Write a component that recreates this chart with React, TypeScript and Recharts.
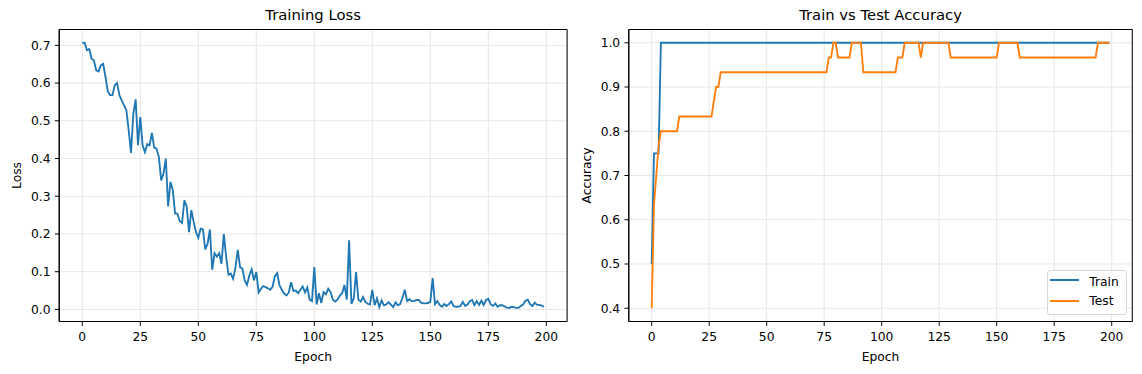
import { LineChart, Line, XAxis, YAxis, CartesianGrid, Label, ReferenceArea } from 'recharts';

// training loss per epoch (0..199)
const LOSS = [
  0.707, 0.707, 0.687, 0.69, 0.665, 0.66, 0.634, 0.631, 0.647, 0.651,
  0.616, 0.578, 0.568, 0.568, 0.594, 0.6, 0.568, 0.554, 0.541, 0.528,
  0.475, 0.415, 0.519, 0.557, 0.435, 0.51, 0.435, 0.417, 0.438, 0.435,
  0.468, 0.429, 0.426, 0.404, 0.342, 0.36, 0.4, 0.273, 0.338, 0.317,
  0.254, 0.254, 0.234, 0.229, 0.289, 0.273, 0.205, 0.263, 0.232, 0.205,
  0.19, 0.214, 0.212, 0.159, 0.174, 0.212, 0.105, 0.149, 0.14, 0.149,
  0.121, 0.2, 0.14, 0.092, 0.095, 0.081, 0.11, 0.158, 0.112, 0.108,
  0.077, 0.065, 0.09, 0.106, 0.077, 0.099, 0.045, 0.055, 0.062, 0.059,
  0.056, 0.052, 0.06, 0.088, 0.096, 0.064, 0.052, 0.042, 0.037, 0.045,
  0.072, 0.049, 0.05, 0.043, 0.052, 0.061, 0.045, 0.058, 0.026, 0.022,
  0.112, 0.013, 0.043, 0.017, 0.046, 0.04, 0.055, 0.046, 0.026, 0.021,
  0.026, 0.037, 0.043, 0.065, 0.026, 0.183, 0.015, 0.029, 0.099, 0.026,
  0.021, 0.033, 0.02, 0.015, 0.013, 0.052, 0.011, 0.029, 0.006, 0.024,
  0.011, 0.013, 0.019, 0.013, 0.006, 0.019, 0.011, 0.014, 0.031, 0.052,
  0.022, 0.027, 0.022, 0.022, 0.025, 0.025, 0.018, 0.016, 0.016, 0.017,
  0.02, 0.083, 0.014, 0.022, 0.012, 0.007, 0.014, 0.009, 0.014, 0.021,
  0.009, 0.007, 0.007, 0.009, 0.02, 0.009, 0.013, 0.022, 0.025, 0.011,
  0.022, 0.012, 0.023, 0.012, 0.025, 0.028, 0.014, 0.009, 0.016, 0.007,
  0.011, 0.011, 0.008, 0.005, 0.004, 0.007, 0.006, 0.004, 0.004, 0.009,
  0.013, 0.023, 0.026, 0.014, 0.009, 0.018, 0.012, 0.012, 0.01, 0.007,
];

const TRAIN_ACC = [
  0.5, 0.75, 0.75, 0.75, 1, 1, 1, 1, 1, 1, 1, 1, 1, 1, 1, 1, 1, 1, 1, 1,
  1, 1, 1, 1, 1, 1, 1, 1, 1, 1, 1, 1, 1, 1, 1, 1, 1, 1, 1, 1,
  1, 1, 1, 1, 1, 1, 1, 1, 1, 1, 1, 1, 1, 1, 1, 1, 1, 1, 1, 1,
  1, 1, 1, 1, 1, 1, 1, 1, 1, 1, 1, 1, 1, 1, 1, 1, 1, 1, 1, 1,
  1, 1, 1, 1, 1, 1, 1, 1, 1, 1, 1, 1, 1, 1, 1, 1, 1, 1, 1, 1,
  1, 1, 1, 1, 1, 1, 1, 1, 1, 1, 1, 1, 1, 1, 1, 1, 1, 1, 1, 1,
  1, 1, 1, 1, 1, 1, 1, 1, 1, 1, 1, 1, 1, 1, 1, 1, 1, 1, 1, 1,
  1, 1, 1, 1, 1, 1, 1, 1, 1, 1, 1, 1, 1, 1, 1, 1, 1, 1, 1, 1,
  1, 1, 1, 1, 1, 1, 1, 1, 1, 1, 1, 1, 1, 1, 1, 1, 1, 1, 1, 1,
  1, 1, 1, 1, 1, 1, 1, 1, 1, 1, 1, 1, 1, 1, 1, 1, 1, 1, 1, 1,
];

const TEST_ACC = [
  0.4, 0.6333, 0.7, 0.7667, 0.8, 0.8, 0.8, 0.8, 0.8, 0.8,
  0.8, 0.8, 0.8333, 0.8333, 0.8333, 0.8333, 0.8333, 0.8333, 0.8333, 0.8333,
  0.8333, 0.8333, 0.8333, 0.8333, 0.8333, 0.8333, 0.8333, 0.8667, 0.9, 0.9,
  0.9333, 0.9333, 0.9333, 0.9333, 0.9333, 0.9333, 0.9333, 0.9333, 0.9333, 0.9333,
  0.9333, 0.9333, 0.9333, 0.9333, 0.9333, 0.9333, 0.9333, 0.9333, 0.9333, 0.9333,
  0.9333, 0.9333, 0.9333, 0.9333, 0.9333, 0.9333, 0.9333, 0.9333, 0.9333, 0.9333,
  0.9333, 0.9333, 0.9333, 0.9333, 0.9333, 0.9333, 0.9333, 0.9333, 0.9333, 0.9333,
  0.9333, 0.9333, 0.9333, 0.9333, 0.9333, 0.9333, 0.9333, 0.9667, 0.9667, 1,
  1, 0.9667, 0.9667, 0.9667, 0.9667, 0.9667, 0.9667, 1, 1, 1,
  1, 1, 0.9333, 0.9333, 0.9333, 0.9333, 0.9333, 0.9333, 0.9333, 0.9333,
  0.9333, 0.9333, 0.9333, 0.9333, 0.9333, 0.9333, 0.9333, 0.9667, 0.9667, 0.9667,
  1, 1, 1, 1, 1, 1, 1, 0.9667, 1, 1,
  1, 1, 1, 1, 1, 1, 1, 1, 1, 1,
  0.9667, 0.9667, 0.9667, 0.9667, 0.9667, 0.9667, 0.9667, 0.9667, 0.9667, 0.9667,
  0.9667, 0.9667, 0.9667, 0.9667, 0.9667, 0.9667, 0.9667, 0.9667, 0.9667, 0.9667,
  0.9667, 1, 1, 1, 1, 1, 1, 1, 1, 1,
  0.9667, 0.9667, 0.9667, 0.9667, 0.9667, 0.9667, 0.9667, 0.9667, 0.9667, 0.9667,
  0.9667, 0.9667, 0.9667, 0.9667, 0.9667, 0.9667, 0.9667, 0.9667, 0.9667, 0.9667,
  0.9667, 0.9667, 0.9667, 0.9667, 0.9667, 0.9667, 0.9667, 0.9667, 0.9667, 0.9667,
  0.9667, 0.9667, 0.9667, 0.9667, 1, 1, 1, 1, 1, 1,
];

const EPOCH_TICKS = [0, 25, 50, 75, 100, 125, 150, 175, 200];
const LOSS_TICKS = [0, 0.1, 0.2, 0.3, 0.4, 0.5, 0.6, 0.7];
const ACC_TICKS = [0.4, 0.5, 0.6, 0.7, 0.8, 0.9, 1.0];

const SERIES = [
  { key: 'train', name: 'Train', color: '#1f77b4' },
  { key: 'test', name: 'Test', color: '#ff7f0e' },
];

const lossData = LOSS.map((loss, epoch) => ({ epoch, loss }));
const accData = TRAIN_ACC.map((train, epoch) => ({ epoch, train, test: TEST_ACC[epoch] }));

const FONT = '"DejaVu Sans", sans-serif';
const X_DOMAIN: [number, number] = [-9.95, 208.95];
const LOSS_DOMAIN: [number, number] = [-0.032, 0.742];
const ACC_DOMAIN: [number, number] = [0.37, 1.03];
const tickStyle = { fill: '#000', fontSize: 12.3, fontFamily: FONT };

function YTitle(props: any) {
  const vb = props.viewBox || { x: 0, y: 0, width: 0, height: 0 };
  const cx = vb.x + vb.width - 42.2;
  const cy = vb.y + vb.height / 2;
  return (
    <text x={cx} y={cy} transform={`rotate(-90 ${cx} ${cy})`} textAnchor="middle"
      dominantBaseline="central" fill="#000" fontSize={12.3} fontFamily={FONT}>
      {props.text}
    </text>
  );
}

function XTitle(props: any) {
  const vb = props.viewBox || { x: 0, y: 0, width: 0, height: 0 };
  return (
    <text x={vb.x + vb.width / 2} y={vb.y + 39.2} textAnchor="middle"
      fill="#000" fontSize={12.3} fontFamily={FONT}>
      {props.text}
    </text>
  );
}

function axesFor(yDomain: [number, number], yTicks: number[], yWidth: number, yLabel: string) {
  return [
    <CartesianGrid key="g" stroke="#e6e6e6" strokeWidth={1} />,
    <XAxis key="x" dataKey="epoch" type="number" domain={X_DOMAIN} ticks={EPOCH_TICKS}
      allowDataOverflow height={52.5} tickSize={4.3} tickMargin={6.8} tick={tickStyle}
      axisLine={{ stroke: '#000', strokeWidth: 1 }} tickLine={{ stroke: '#000', strokeWidth: 1 }}>
      <Label content={(p: any) => <XTitle {...p} text="Epoch" />} />
    </XAxis>,
    <YAxis key="y" type="number" domain={yDomain} ticks={yTicks} allowDataOverflow
      width={yWidth} tickSize={4.3} tickMargin={4.3} tick={tickStyle}
      tickFormatter={(v: number) => v.toFixed(1)}
      axisLine={{ stroke: '#000', strokeWidth: 1 }} tickLine={{ stroke: '#000', strokeWidth: 1 }}>
      <Label content={(p: any) => <YTitle {...p} text={yLabel} />} />
    </YAxis>,
    // axes frame (top and right spines)
    <ReferenceArea key="frame" x1={X_DOMAIN[0]} x2={X_DOMAIN[1]} y1={yDomain[0]} y2={yDomain[1]}
      fill="none" fillOpacity={0} stroke="#000" strokeWidth={1} strokeOpacity={1} ifOverflow="visible" />,
  ];
}

const titleStyle = (left: number, width: number): React.CSSProperties => ({
  position: 'absolute', left, width, top: 8.3, textAlign: 'center',
  fontFamily: FONT, fontSize: 14.8, lineHeight: 1, color: '#000',
});

export default function App() {
  return (
    <div style={{ position: 'absolute', left: 0, top: 0, width: 1142, height: 374, background: '#fff' }}>
      <div style={{ position: 'absolute', left: 0, top: 0 }}>
        <LineChart width={571} height={374} data={lossData}
          margin={{ top: 29.5, right: 3.9, bottom: 0, left: 0 }}>
          {axesFor(LOSS_DOMAIN, LOSS_TICKS, 59.2, 'Loss')}
          <Line type="linear" dataKey="loss" stroke="#1f77b4" strokeWidth={1.85}
            dot={false} activeDot={false} isAnimationActive={false} />
        </LineChart>
      </div>
      <div style={{ position: 'absolute', left: 571, top: 0 }}>
        <LineChart width={571} height={374} data={accData}
          margin={{ top: 29.5, right: 9.7, bottom: 0, left: 0 }}>
          {axesFor(ACC_DOMAIN, ACC_TICKS, 57.8, 'Accuracy')}
          {SERIES.map((s) => (
            <Line key={s.key} type="linear" dataKey={s.key} name={s.name} stroke={s.color}
              strokeWidth={1.85} dot={false} activeDot={false} isAnimationActive={false} />
          ))}
        </LineChart>
      </div>
      <div style={titleStyle(59.2, 507.9)}>Training Loss</div>
      <div style={titleStyle(628.8, 503.5)}>Train vs Test Accuracy</div>
      <div style={{
        position: 'absolute', left: 1046.7, top: 270, width: 80, height: 45, boxSizing: 'border-box',
        background: 'rgba(255,255,255,0.8)', border: '1px solid #d6d6d6', borderRadius: 3,
        fontFamily: FONT, fontSize: 12.3, lineHeight: 1, color: '#000',
      }}>
        {SERIES.map((s, i) => (
          <div key={s.key}>
            <div style={{ position: 'absolute', left: 2.3, top: 10 + i * 20.7 - 1 - 0.9, width: 29, height: 1.85, background: s.color }} />
            <div style={{ position: 'absolute', left: 41.6, top: 5.3 + i * 19 }}>{s.name}</div>
          </div>
        ))}
      </div>
    </div>
  );
}
